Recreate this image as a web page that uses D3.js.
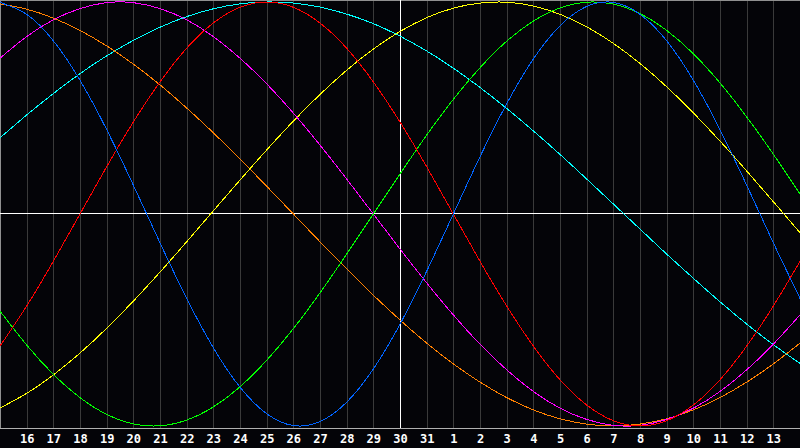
<!DOCTYPE html>
<html><head><meta charset="utf-8">
<script src="https://cdn.jsdelivr.net/npm/d3@7"></script>
<style>html,body{margin:0;padding:0;background:#040408;overflow:hidden}svg{display:block}</style>
</head><body><svg id="c" width="800" height="448"></svg>
<script>
// Day labels (index 0 = day 15 at left edge, index 30 = day 14 at right edge)
const days = ["15","16","17","18","19","20","21","22","23","24","25","26","27","28","29","30","31",
              "1","2","3","4","5","6","7","8","9","10","11","12","13","14"];

// Daily values (-1 .. 1)
const physical = [0.998,0.942,0.817,0.631,0.398,0.136,-0.136,-0.398,-0.631,-0.817,-0.942,-0.998,-0.979,-0.888,-0.731,-0.520,-0.270,0,0.270,0.520,0.731,0.888,0.979,0.998,0.942,0.817,0.631,0.398,0.136,-0.136,-0.398];
const emotional = [-0.623,-0.434,-0.223,0,0.223,0.434,0.623,0.782,0.901,0.975,1.000,0.975,0.901,0.782,0.623,0.434,0.223,0,-0.223,-0.434,-0.623,-0.782,-0.901,-0.975,-1.000,-0.975,-0.901,-0.782,-0.623,-0.434,-0.223];
const intellectual = [-0.458,-0.618,-0.756,-0.866,-0.945,-0.990,-0.999,-0.972,-0.910,-0.815,-0.690,-0.541,-0.372,-0.189,0,0.189,0.372,0.541,0.690,0.815,0.910,0.972,0.999,0.990,0.945,0.866,0.756,0.618,0.458,0.282,0.095];
const intuitive = [0.735,0.837,0.916,0.969,0.997,0.997,0.969,0.916,0.837,0.735,0.614,0.476,0.325,0.165,0,-0.165,-0.325,-0.476,-0.614,-0.735,-0.837,-0.916,-0.969,-0.997,-0.997,-0.969,-0.916,-0.837,-0.735,-0.614,-0.476];
const aesthetic = [-0.915,-0.846,-0.759,-0.656,-0.539,-0.411,-0.274,-0.131,0.015,0.160,0.302,0.438,0.564,0.678,0.778,0.861,0.926,0.971,0.995,0.999,0.981,0.942,0.883,0.805,0.710,0.600,0.477,0.344,0.203,0.058,-0.088];
const awareness = [0.991,0.966,0.924,0.866,0.793,0.707,0.609,0.500,0.383,0.259,0.131,0,-0.131,-0.259,-0.383,-0.500,-0.609,-0.707,-0.793,-0.866,-0.924,-0.966,-0.991,-1.000,-0.991,-0.966,-0.924,-0.866,-0.793,-0.707,-0.609];
const spiritual = [0.359,0.467,0.568,0.662,0.746,0.819,0.881,0.931,0.968,0.991,1.000,0.995,0.976,0.943,0.898,0.839,0.769,0.688,0.597,0.498,0.392,0.281,0.165,0.047,-0.071,-0.189,-0.303,-0.414,-0.519,-0.616,-0.705];

const seriesData = [spiritual, awareness, aesthetic, intuitive, intellectual, emotional, physical];
const seriesColors = ["#00ffff","#ff8000","#ffff00","#ff00ff","#00ff00","#ff0000","#0064ff"];

const W = 800, H = 448, plotTop = 0, plotBottom = 428;
const svg = d3.select("#c");
svg.append("rect").attr("width", W).attr("height", H).attr("fill", "#040408");

const x = d3.scaleLinear().domain([0, days.length - 1]).range([0, W]);
const y = d3.scaleLinear().domain([-1, 1]).range([426, 2]);

// vertical grid lines at each day
const gridG = svg.append("g").attr("transform", `translate(0,${plotBottom})`)
  .call(d3.axisBottom(x).tickValues(d3.range(1, days.length - 1)).tickSize(-(plotBottom - plotTop)).tickFormat(""));
gridG.select(".domain").remove();
gridG.selectAll(".tick line").attr("stroke", "#3a3a3a").attr("shape-rendering", "crispEdges");

// frame
svg.append("line").attr("x1", 0).attr("x2", W).attr("y1", 0.5).attr("y2", 0.5).attr("stroke", "#909090");
svg.append("line").attr("x1", 0.5).attr("x2", 0.5).attr("y1", 0).attr("y2", plotBottom).attr("stroke", "#909090");
svg.append("line").attr("x1", 0).attr("x2", W).attr("y1", plotBottom + 0.5).attr("y2", plotBottom + 0.5).attr("stroke", "#b0b0b0");

// center cross
svg.append("line").attr("x1", 0).attr("x2", W).attr("y1", Math.round(y(0)) - 0.5).attr("y2", Math.round(y(0)) - 0.5).attr("stroke", "#ffffff");
svg.append("line").attr("x1", Math.round(x(15)) + 0.5).attr("x2", Math.round(x(15)) + 0.5).attr("y1", 0).attr("y2", plotBottom).attr("stroke", "#ffffff");

// curves
const line = d3.line().x((d, i) => x(i)).y(d => y(d)).curve(d3.curveNatural);
svg.append("g").selectAll("path").data(seriesData).join("path")
  .attr("d", line).attr("fill", "none").attr("shape-rendering", "crispEdges")
  .attr("stroke", (d, i) => seriesColors[i]).attr("stroke-width", 1);

// day labels
const axG = svg.append("g").attr("transform", `translate(0,${plotBottom + 2})`)
  .call(d3.axisBottom(x).tickValues(d3.range(1, days.length - 1)).tickSize(0).tickPadding(4).tickFormat(i => days[i]));
axG.select(".domain").remove();
axG.selectAll("text").attr("fill", "#ffffff").attr("font-family", "'DejaVu Sans Mono', monospace")
  .attr("font-weight", "bold").attr("font-size", 12);
</script></body></html>
